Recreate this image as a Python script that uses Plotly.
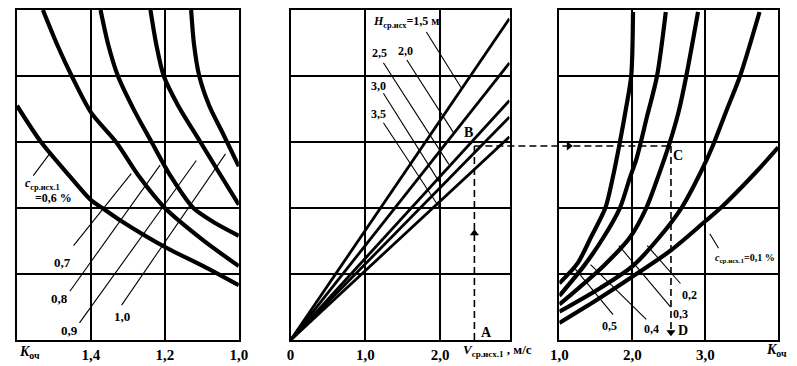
import plotly.graph_objects as go

# ---------------- data ----------------
# Left panel: K_оч (axis reversed 1.6 -> 1.0), curves for c_ср.исх.1
left_ticks = [1.4, 1.2, 1.0]
left_ticktext = ["1,4", "1,2", "1,0"]
k_c06 = [1.600, 1.535, 1.457, 1.400, 1.369, 1.317, 1.200, 1.096, 1.000]
y_c06 = [3.55, 3.00, 2.48, 2.12, 2.00, 1.80, 1.41, 1.12, 0.83]
k_c07 = [1.530, 1.491, 1.452, 1.400, 1.332, 1.270, 1.200, 1.096, 1.000]
y_c07 = [5.00, 4.47, 4.00, 3.45, 3.00, 2.48, 2.00, 1.51, 1.12]
k_c08 = [1.374, 1.353, 1.327, 1.283, 1.236, 1.184, 1.123, 1.063, 1.000]
y_c08 = [5.00, 4.47, 4.00, 3.48, 3.00, 2.48, 2.00, 1.77, 1.58]
k_c09 = [1.239, 1.223, 1.203, 1.164, 1.104, 1.055, 1.000]
y_c09 = [5.00, 4.47, 4.00, 3.55, 3.00, 2.55, 2.05]
k_c10 = [1.129, 1.121, 1.107, 1.080, 1.044, 1.000]
y_c10 = [5.00, 4.47, 4.00, 3.55, 3.14, 2.63]

left_leader_x = [[1.556, 1.512], [1.447, 1.291], [1.457, 1.213], [1.431, 1.115], [1.317, 1.036]]
left_leader_y = [[2.49, 2.82], [1.43, 2.52], [0.74, 2.65], [0.26, 2.72], [0.53, 2.82]]
left_labels = ["0,7", "0,8", "0,9", "1,0"]
left_label_x = [1.478, 1.486, 1.457, 1.317]
left_label_y = [1.17, 0.63, 0.14, 0.36]

# Middle panel: V_ср.исх.1 (m/s), straight lines from origin for H_ср.исх
mid_ticks = [0, 1, 2]
mid_ticktext = ["0", "1,0", "2,0"]
mid_v = [0.0, 2.93]
h_labels = ["1,5", "2,0", "2,5", "3,0", "3,5"]
h_y_end = [4.87, 4.20, 3.63, 3.38, 3.08]
mid_leader_x = [[1.817, 2.288], [1.556, 2.183], [1.242, 2.118], [1.242, 1.987], [1.242, 1.987]]
mid_leader_y = [[4.667, 3.815], [4.242, 3.138], [4.20, 2.662], [3.738, 2.40], [3.292, 2.015]]
mid_label_x = [1.54, 1.19, 1.18, 1.18]
mid_label_y = [4.38, 4.35, 3.85, 3.42]

# Right panel: K_оч, curves for c_ср.исх.1
right_ticks = [1, 2, 3]
right_ticktext = ["1,0", "2,0", "3,0"]
x_r05 = [1.000, 1.254, 1.430, 1.630, 1.730, 1.830, 1.920, 1.985, 2.010]
y_r05 = [0.86, 1.17, 1.55, 2.00, 2.45, 3.00, 3.55, 4.00, 4.97]
x_r04 = [1.000, 1.335, 1.602, 1.830, 1.964, 2.058, 2.205, 2.339, 2.459]
y_r04 = [0.67, 1.12, 1.55, 2.00, 2.45, 2.75, 3.40, 4.00, 4.97]
x_r03 = [1.000, 1.602, 1.964, 2.191, 2.365, 2.499, 2.633, 2.740, 2.901]
y_r03 = [0.54, 1.12, 1.55, 2.00, 2.51, 2.94, 3.45, 4.00, 4.97]
x_r02 = [1.000, 1.562, 2.004, 2.365, 2.673, 2.941, 3.102, 3.303, 3.477, 3.744]
y_r02 = [0.43, 0.79, 1.12, 1.55, 2.00, 2.55, 2.94, 3.51, 4.00, 4.97]
x_r01 = [1.000, 1.500, 2.000, 2.530, 3.000, 3.210, 3.700, 4.000]
y_r01 = [0.26, 0.60, 0.96, 1.36, 1.80, 2.00, 2.55, 2.92]
right_leader_x = [[1.201, 1.736], [1.428, 2.191], [1.817, 2.526], [2.205, 2.660], [3.062, 3.182]]
right_leader_y = [[1.10, 0.386], [1.143, 0.314], [1.43, 0.50], [1.43, 0.857], [1.61, 1.39]]
right_labels = ["0,5", "0,4", "0,3", "0,2"]
right_label_x = [1.683, 2.258, 2.66, 2.78]
right_label_y = [0.214, 0.171, 0.40, 0.686]

# Worked example A -> B -> C -> D
point_v_a = 2.46
point_y_b = 2.94
point_k_d = 2.53

# ---------------- layout geometry ----------------
# The page body has an 8 px margin, so the figure is 8 px smaller on each
# side and positions are given in page pixels minus that offset.
OFF = 8
FW, FH = 797 - OFF, 366 - OFF

def px(xp):
    return (xp - OFF) / FW

def py(yp):
    return 1 - (yp - OFF) / FH

XD1 = [px(8), px(235)]
XD2 = [px(288), px(512)]
XD3 = [px(563), px(787)]
YD = [py(340), py(9)]
R1 = [1.6, 1.0]
R2 = [0.0, 2.93]
R3 = [1.0, 4.0]

SERIF = "Liberation Serif"
fig = go.Figure()

def line(x, y, ax, w=4.2, spline=True, dash=None):
    fig.add_trace(go.Scatter(
        x=x, y=y, mode="lines", xaxis="x" + ax, yaxis="y" + ax,
        line=dict(color="black", width=w, shape="spline" if spline else "linear",
                  smoothing=0.8, dash=dash),
        hoverinfo="skip", showlegend=False))

for kx, ky in [(k_c06, y_c06), (k_c07, y_c07), (k_c08, y_c08), (k_c09, y_c09), (k_c10, y_c10)]:
    line(kx, ky, "")
for lx, ly in zip(left_leader_x, left_leader_y):
    line(lx, ly, "", w=1.1, spline=False)

for ye in h_y_end:
    line(mid_v, [0.0, ye], "2", w=2.8, spline=False)
for lx, ly in zip(mid_leader_x, mid_leader_y):
    line(lx, ly, "2", w=1.1, spline=False)

for rx, ry in [(x_r05, y_r05), (x_r04, y_r04), (x_r03, y_r03), (x_r02, y_r02), (x_r01, y_r01)]:
    line(rx, ry, "3")
for lx, ly in zip(right_leader_x, right_leader_y):
    line(lx, ly, "3", w=1.1, spline=False)

DASH = "7px,4px"
line([point_v_a, point_v_a], [0, point_y_b], "2", w=1.6, spline=False, dash=DASH)
line([point_k_d, point_k_d], [point_y_b, 0.1], "3", w=1.6, spline=False, dash=DASH)

def to_paper(v, dom, rng):
    return dom[0] + (v - rng[0]) / (rng[1] - rng[0]) * (dom[1] - dom[0])

fig.add_shape(type="line", xref="paper", yref="y2",
              x0=to_paper(point_v_a, XD2, R2), x1=to_paper(point_k_d, XD3, R3),
              y0=point_y_b, y1=point_y_b,
              line=dict(color="black", width=1.6, dash=DASH))

fig.add_trace(go.Scatter(x=[point_v_a], y=[1.62], mode="markers", xaxis="x2", yaxis="y2",
                         marker=dict(symbol="triangle-up", size=8, color="black"),
                         hoverinfo="skip", showlegend=False))
fig.add_trace(go.Scatter(x=[1.13, point_k_d], y=[point_y_b, 0.12], mode="markers",
                         xaxis="x3", yaxis="y3",
                         marker=dict(symbol=["triangle-right", "triangle-down"], size=8, color="black"),
                         hoverinfo="skip", showlegend=False))

def xax(dom, rng, tv, tt, anchor):
    return dict(domain=dom, range=rng, tickvals=tv, ticktext=tt, showline=True, linecolor="black",
                linewidth=2, mirror=True, showgrid=True, gridcolor="black", gridwidth=2,
                zeroline=False, ticks="", fixedrange=True, anchor=anchor,
                tickfont=dict(family=SERIF, size=15, color="black", weight="bold"))

def yax(anchor):
    return dict(domain=YD, range=[0, 5], tickvals=[1, 2, 3, 4], showticklabels=False,
                showline=True, linecolor="black", linewidth=2, mirror=True, showgrid=True,
                gridcolor="black", gridwidth=2, zeroline=False, ticks="", fixedrange=True,
                anchor=anchor)

fig.update_layout(
    width=FW, height=FH, margin=dict(l=0, r=0, t=0, b=0), autosize=False,
    paper_bgcolor="white", plot_bgcolor="white",
    xaxis=xax(XD1, R1, left_ticks, left_ticktext, "y"),
    xaxis2=xax(XD2, R2, mid_ticks, mid_ticktext, "y2"),
    xaxis3=xax(XD3, R3, right_ticks, right_ticktext, "y3"),
    yaxis=yax("x"), yaxis2=yax("x2"), yaxis3=yax("x3"),
)

ann = []
def text(t, x, y, ax, size=13, xanchor="center"):
    ann.append(dict(text=t, x=x, y=y, xref="x" + ax, yref="y" + ax, showarrow=False,
                    xanchor=xanchor, yanchor="middle",
                    font=dict(family=SERIF, size=size, color="black", weight="bold")))

for t, x, y in zip(left_labels, left_label_x, left_label_y):
    text(t, x, y, "")
text("<i>c</i><sub>ср.исх.1</sub>", 1.585, 2.37, "", size=12, xanchor="left")
text("=0,6 %", 1.556, 2.15, "", size=12, xanchor="left")

text("<i>H</i><sub>ср.исх</sub>=1,5 м", 1.07, 4.82, "2", size=12, xanchor="left")
for t, x, y in zip(h_labels[1:], mid_label_x, mid_label_y):
    text(t, x, y, "2", size=12)
text("B", 2.38, 3.14, "2", size=14)
text("A", 2.62, 0.12, "2", size=14)

for t, x, y in zip(right_labels, right_label_x, right_label_y):
    text(t, x, y, "3", size=12)
text("<i>c</i><sub>ср.исх.1</sub>=0,1 %", 3.54, 1.23, "3", size=10)
text("C", 2.62, 2.80, "3", size=14)
text("D", 2.69, 0.14, "3", size=14)

def page_text(t, xp, yp, size=14):
    ann.append(dict(text=t, x=max(px(xp), 0), y=py(yp), xref="paper", yref="paper",
                    showarrow=False, xanchor="left", yanchor="middle",
                    font=dict(family=SERIF, size=size, color="black", weight="bold")))

page_text("<i>K</i><sub>оч</sub>", 8, 352)
page_text("<i>K</i><sub>оч</sub>", 772, 350)
page_text("<i>V</i><sub>ср.исх.1</sub> , м/с", 462, 350, size=13)
fig.update_layout(annotations=ann)

fig.write_html("out.html")
